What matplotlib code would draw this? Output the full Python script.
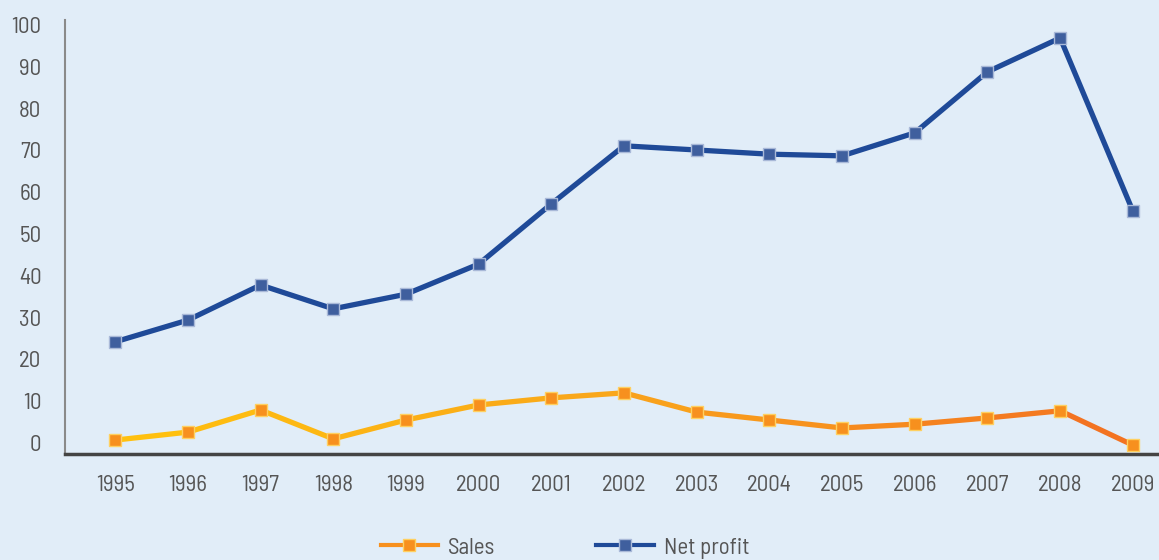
import numpy as np
import matplotlib
matplotlib.use("Agg")
import matplotlib.pyplot as plt
from matplotlib.collections import LineCollection
from matplotlib.colors import LinearSegmentedColormap
from matplotlib.lines import Line2D

years = [1995, 1996, 1997, 1998, 1999, 2000, 2001, 2002, 2003, 2004, 2005, 2006, 2007, 2008, 2009]
sales = [0.7, 2.6, 7.9, 1.0, 5.5, 9.1, 10.8, 12.0, 7.4, 5.5, 3.6, 4.5, 6.0, 7.7, -0.5]
net_profit = [24.2, 29.4, 37.8, 32.1, 35.6, 42.8, 57.2, 71.1, 70.1, 69.1, 68.7, 74.2, 88.8, 96.9, 55.5]
y_ticks = [0, 10, 20, 30, 40, 50, 60, 70, 80, 90, 100]

plt.rcParams["font.family"] = ["Barlow Semi Condensed", "Barlow Condensed", "DejaVu Sans"]

BG = "#e1edf8"
TXT = "#555555"
BLUE = "#1f4a98"
FS = 16.5

fig = plt.figure(figsize=(11.59, 5.6), dpi=100, facecolor=BG)
ax = fig.add_axes([65 / 1159, 106 / 560, 1 - 65 / 1159, 434 / 560])
ax.set_facecolor(BG)

x = np.array(years, dtype=float)
ys = np.array(sales)
yn = np.array(net_profit)

# Net profit line
ax.plot(x, yn, color=BLUE, lw=3.8, solid_joinstyle="round", zorder=3)
ax.plot(x, yn, ls="none", marker="s", ms=8.0, mfc="#3f5f9e", mec="#a9b9d8", mew=1.0, zorder=4)

# Sales line with yellow->orange gradient
cmap = LinearSegmentedColormap.from_list("so", ["#ffc20e", "#f9a51b", "#f36f21"])
pts = np.column_stack([x, ys]).reshape(-1, 1, 2)
segs = np.concatenate([pts[:-1], pts[1:]], axis=1)
t = (x[:-1] + x[1:]) / 2
t = (t - x.min()) / (x.max() - x.min())
lc = LineCollection(segs, colors=cmap(t), linewidths=3.8, capstyle="round", joinstyle="round", zorder=3)
ax.add_collection(lc)
ax.plot(x, ys, ls="none", marker="s", ms=8.0, mfc="#f7901e", mec="#ffd060", mew=1.0, zorder=4)

ax.set_xlim(1994.31, 2009.36)
ax.set_ylim(-2.63, 101.2)
ax.set_xticks(years)
ax.set_xticklabels([str(y) for y in years])
ax.set_yticks(y_ticks)
ax.tick_params(axis="both", length=0, labelsize=FS, labelcolor=TXT)
ax.tick_params(axis="x", pad=15)
ax.tick_params(axis="y", pad=17)

for s in ["top", "right"]:
    ax.spines[s].set_visible(False)
ax.spines["left"].set_color("#8a8a8a")
ax.spines["left"].set_linewidth(1.5)
ax.spines["bottom"].set_color("#444444")
ax.spines["bottom"].set_linewidth(2.5)

handles = [
    Line2D([], [], color="#f7901e", lw=3, marker="s", ms=8.5, mfc="#f7901e", mec="#ffd060"),
    Line2D([], [], color=BLUE, lw=3, marker="s", ms=8.5, mfc="#3f5f9e", mec="#a9b9d8"),
]
fig.legend(handles, ["Sales", "Net profit"], loc="center", bbox_to_anchor=(565 / 1159, 1 - 548 / 560),
           ncol=2, frameon=False, fontsize=FS, labelcolor=TXT, handlelength=2.5,
           columnspacing=4.4, handletextpad=0.45)

fig.savefig("out.png", dpi=100, facecolor=BG)
